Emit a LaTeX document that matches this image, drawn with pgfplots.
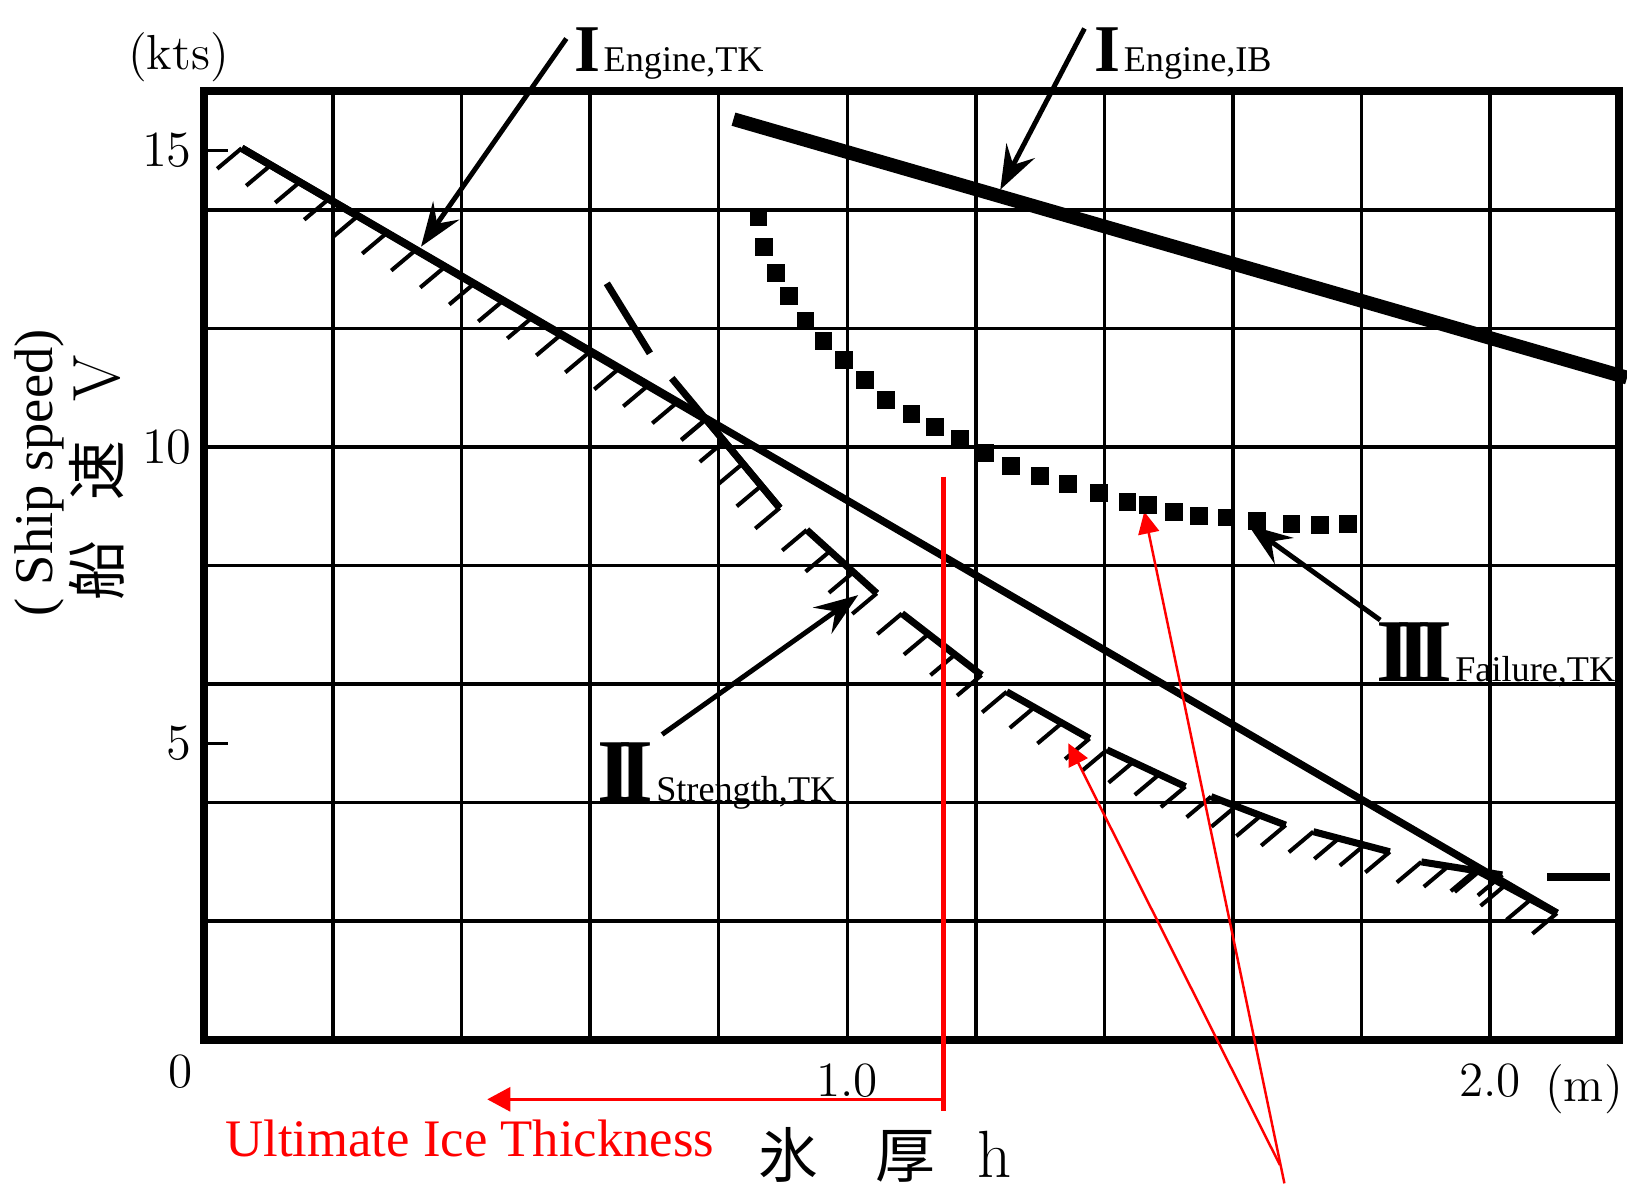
\documentclass[border=0pt]{standalone}
\usepackage{pgfplots}
\pgfplotsset{compat=1.18}
\usepackage{fontspec}
\usetikzlibrary{arrows.meta,decorations.markings}
\newfontfamily\timesfont{Liberation Serif}
\newfontfamily\cjk{Noto Sans CJK JP}

% Roman numerals with joined serifs, and their subscripts
\newcommand{\RI}{{\timesfont\bfseries\fontsize{19}{19}\selectfont I}}
\newcommand{\RII}{{\timesfont\bfseries\fontsize{25.5}{25.5}\selectfont I\kern-0.16em I}}
\newcommand{\RIII}{{\timesfont\bfseries\fontsize{25.5}{25.5}\selectfont I\kern-0.16em I\kern-0.16em I}}
\newcommand{\sub}[1]{\kern0.3mm{\timesfont\fontsize{10.3}{10.3}\selectfont #1}}

% hatching on the lower-left side of a limit line; #1 = number of intervals
\tikzset{
  hatched/.style={
    postaction={decorate},
    decoration={markings,
      mark=between positions 0 and 1.001 step {1/#1} with {
        \pgftransformresetnontranslations
        \draw[black, line width=1.15pt, line cap=butt] (0,0) -- (220:3.2mm);
      }
    }
  },
  arr/.style={line width=1.4pt, -{Stealth[length=4.4mm, width=3.2mm, inset=1.6mm]}},
  redarr/.style={red, line width=0.7pt, -{Triangle[length=2.2mm, width=2.1mm]}}
}

\begin{document}
\begin{tikzpicture}
\begin{axis}[
  name=ax,
  scale only axis,
  width=141.43mm, height=94.84mm,
  xmin=0, xmax=2.2, ymin=0, ymax=16,
  clip=false,
  axis line style={line width=2.3pt},
  xtick={1,2}, xticklabels={1.0,2.0},
  ytick={5,10,15},
  xtick style={draw=none},
  ytick style={black, line width=0.95pt},
  major tick length=2.4mm,
  tick align=inside,
  ytick pos=left, xtick pos=bottom,
  tick label style={font=\fontsize{14}{14}\selectfont, inner sep=0pt},
  xticklabel style={anchor=north, yshift=-2.3mm},
  yticklabel style={anchor=east, xshift=-1.2mm},
  extra x ticks={0.2,0.4,0.6,0.8,1.0,1.2,1.4,1.6,1.8,2.0},
  extra x tick labels={},
  extra x tick style={grid=major, major tick length=0pt},
  extra y ticks={2,4,6,8,10,12,14},
  extra y tick labels={},
  extra y tick style={grid=major, major tick length=0pt},
  grid style={black, line width=0.95pt},
  every axis plot/.append style={black, line cap=butt},
]

% I Engine,IB : icebreaker engine limit
\addplot[line width=3.9pt] coordinates {(0.823,15.53) (2.213,11.17)};

% I Engine,TK : tanker engine limit
\addplot[line width=2.1pt] coordinates {(0.058,15.04) (2.104,2.134)};
\addplot[line width=2.1pt, hatched=16] coordinates {(0.058,15.04) (0.780,10.46)};
\addplot[line width=2.1pt, hatched=3] coordinates {(1.983,2.84) (2.104,2.134)};

% II Strength,TK : hull strength limit (long dashes)
\addplot[line width=2.0pt] coordinates {(0.626,12.76) (0.693,11.58)};
\addplot[line width=2.0pt] coordinates {(0.727,11.16) (0.895,8.97)};
\addplot[line width=2.0pt, hatched=4] coordinates {(0.780,10.47) (0.895,8.97)};
\addplot[line width=2.0pt, hatched=3] coordinates {(0.937,8.60) (1.046,7.53)};
\addplot[line width=2.0pt, hatched=3] coordinates {(1.085,7.19) (1.209,6.15)};
\addplot[line width=2.0pt, hatched=3] coordinates {(1.248,5.87) (1.377,5.08)};
\addplot[line width=2.0pt, hatched=3] coordinates {(1.404,4.89) (1.526,4.27)};
\addplot[line width=2.0pt, hatched=3] coordinates {(1.566,4.10) (1.682,3.62)};
\addplot[line width=2.0pt, hatched=3] coordinates {(1.725,3.51) (1.844,3.17)};
\addplot[line width=2.0pt, hatched=3] coordinates {(1.893,3.00) (2.019,2.78)};
\addplot[line width=2.2pt] coordinates {(2.089,2.74) (2.187,2.74)};

% III Failure,TK : propulsion failure limit (square dots)
\addplot[only marks, mark=square*, mark size=2.4pt, mark options={line width=0pt}] coordinates {
  (0.862,13.88) (0.871,13.38) (0.889,12.93) (0.909,12.55) (0.935,12.13)
  (0.963,11.79) (0.995,11.46) (1.028,11.13) (1.060,10.79) (1.100,10.56)
  (1.136,10.33) (1.175,10.13) (1.214,9.90) (1.255,9.68) (1.300,9.51)
  (1.344,9.37) (1.391,9.22) (1.436,9.07) (1.468,9.02) (1.508,8.91)
  (1.547,8.84) (1.590,8.81) (1.638,8.75) (1.691,8.70) (1.735,8.68)
  (1.779,8.70)};

% pointers and curve names
\draw[arr] (axis cs:0.563,16.89) -- (axis cs:0.337,13.38);
\draw[arr] (axis cs:1.369,17.06) -- (axis cs:1.238,14.34);
\draw[arr] (axis cs:0.712,5.15) -- (axis cs:1.017,7.50);
\draw[arr] (axis cs:1.829,7.08) -- (axis cs:1.624,8.68);

\node[anchor=base west, inner sep=0pt] at (axis cs:0.575,16.33) {\RI\sub{Engine,TK}};
\node[anchor=base west, inner sep=0pt] at (axis cs:1.384,16.33) {\RI\sub{Engine,IB}};
\node[anchor=base west, inner sep=0pt] at (axis cs:0.611,4.015) {\RII\sub{Strength,TK}};
\node[anchor=base west, inner sep=0pt] at (axis cs:1.822,6.05) {\RIII\sub{Failure,TK}};

% ultimate ice thickness
\draw[red, line width=1.3pt] (axis cs:1.150,9.50) -- (axis cs:1.150,-1.21);
\draw[red, line width=0.8pt, -{Triangle[length=2.3mm, width=2.4mm]}]
  (axis cs:1.150,-1.006) -- (axis cs:0.440,-1.006);
\draw[redarr] (axis cs:1.673,-2.114) -- (axis cs:1.344,5.00);
\draw[redarr] (axis cs:1.680,-2.423) -- (axis cs:1.462,8.91);
\node[red, inner sep=0pt, font=\timesfont\fontsize{15}{15}\selectfont]
  at (axis cs:0.413,-1.664) {Ultimate Ice Thickness};

% units, origin and axis titles
\node[inner sep=0pt, font=\fontsize{14}{14}\selectfont] at (axis cs:-0.0403,16.58) {(kts)};
\node[inner sep=0pt, font=\fontsize{14}{14}\selectfont] at (axis cs:2.146,-0.83) {(m)};
\node[inner sep=0pt, font=\fontsize{14}{14}\selectfont] at (axis cs:-0.0364,-0.545) {0};
\node[inner sep=0pt] at (axis cs:1.0586,-1.95)
  {\fontsize{17}{17}\selectfont{\cjk 氷}\hspace{5.7mm}{\cjk 厚}\hspace{4.2mm}{\fontsize{19}{19}\selectfont h}};
\node[rotate=90, inner sep=0pt] at (axis cs:-0.167,9.48)
  {\fontsize{17}{17}\selectfont{\cjk 船}\hspace{4mm}{\cjk 速}\hspace{4mm}{\fontsize{19}{19}\selectfont V}};
\node[rotate=90, inner sep=0pt, font=\timesfont\fontsize{15.5}{15.5}\selectfont]
  at (axis cs:-0.257,9.56) {( Ship speed)};
\end{axis}
\pgfresetboundingbox
\path[use as bounding box] ([xshift=-20.44mm,yshift=-14.83mm]ax.south west) rectangle ++(162.7mm,118.8mm);
\end{tikzpicture}
\end{document}
